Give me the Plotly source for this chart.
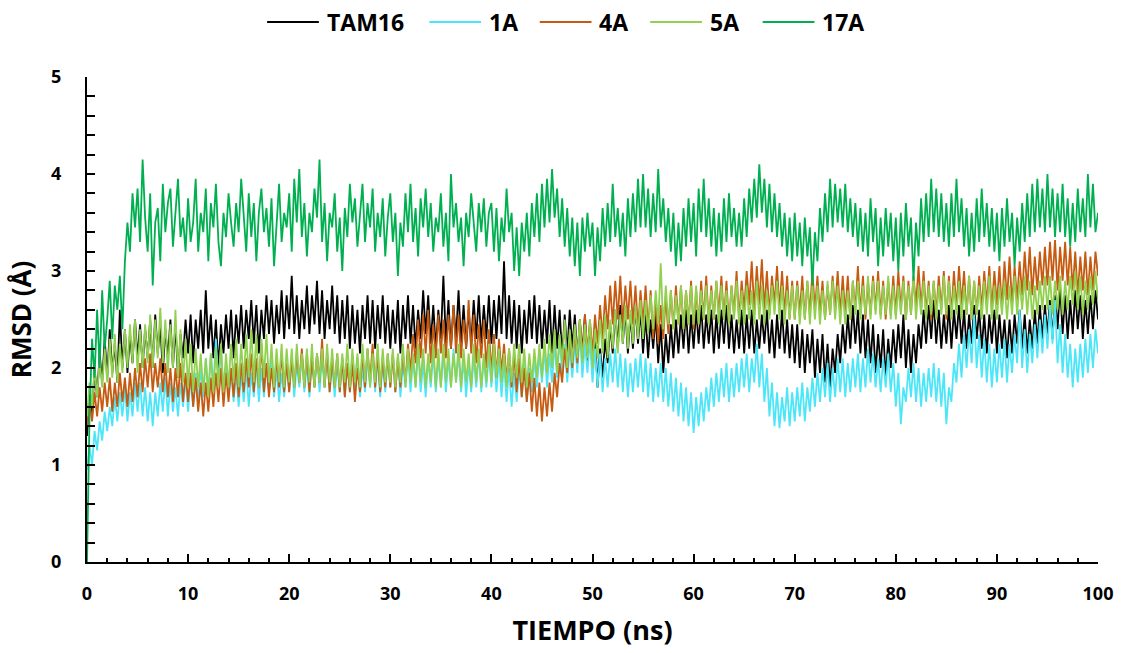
import plotly.graph_objects as go

# Trajectory frames every 0.25 ns, 0-100 ns
TIME_NS = [0.25 * i for i in range(401)]

RMSD_TAM16 = [
    1.3, 1.75, 1.5, 2.0, 1.7, 2.15, 1.85, 2.3, 1.9, 2.4, 1.95, 2.25, 1.85, 2.6, 2.0, 2.4, 1.95, 2.35, 2.05, 2.5,
    2.1, 2.45, 2.0, 2.4, 2.1, 2.5, 2.0, 2.55, 2.15, 2.45, 1.95, 2.4, 2.1, 2.5, 2.0, 2.45, 1.9, 2.35, 2.1, 2.5,
    2.15, 2.55, 2.05, 2.5, 2.2, 2.6, 2.15, 2.8, 2.2, 2.55, 2.1, 2.5, 2.0, 2.45, 2.15, 2.55, 2.2, 2.6, 2.1, 2.55,
    2.25, 2.65, 2.2, 2.6, 2.3, 2.7, 2.25, 2.65, 2.15, 2.6, 2.3, 2.75, 2.35, 2.7, 2.25, 2.65, 2.35, 2.8, 2.3, 2.75,
    2.4, 2.95, 2.35, 2.75, 2.3, 2.7, 2.4, 2.85, 2.35, 2.75, 2.45, 2.9, 2.35, 2.8, 2.3, 2.7, 2.4, 2.85, 2.35, 2.75,
    2.25, 2.7, 2.3, 2.75, 2.2, 2.65, 2.25, 2.6, 2.15, 2.65, 2.3, 2.75, 2.25, 2.7, 2.2, 2.65, 2.3, 2.75, 2.25, 2.65,
    2.2, 2.6, 2.25, 2.7, 2.15, 2.65, 2.3, 2.75, 2.25, 2.65, 2.2, 2.6, 2.3, 2.8, 2.35, 2.75, 2.25, 2.65, 2.2, 2.6,
    2.3, 2.95, 2.25, 2.7, 2.2, 2.65, 2.3, 2.8, 2.25, 2.65, 2.2, 2.6, 2.25, 2.7, 2.3, 2.75, 2.25, 2.65, 2.3, 2.75,
    2.25, 2.7, 2.3, 2.75, 2.35, 3.1, 2.3, 2.75, 2.25, 2.7, 2.2, 2.65, 2.15, 2.6, 2.25, 2.7, 2.3, 2.75, 2.25, 2.65,
    2.2, 2.6, 2.25, 2.7, 2.15, 2.65, 2.2, 2.6, 2.1, 2.55, 2.15, 2.6, 2.2, 2.55, 2.1, 2.5, 2.15, 2.55, 2.05, 2.45,
    1.95, 2.35, 1.8, 2.2, 1.9, 2.3, 2.05, 2.45, 2.15, 2.6, 2.2, 2.65, 2.25, 2.6, 2.15, 2.55, 2.2, 2.65, 2.25, 2.6,
    2.15, 2.55, 2.1, 2.5, 2.2, 2.55, 2.05, 2.45, 1.95, 2.35, 2.05, 2.45, 2.1, 2.5, 2.15, 2.55, 2.2, 2.6, 2.15, 2.55,
    2.2, 2.6, 2.25, 2.65, 2.2, 2.55, 2.25, 2.6, 2.15, 2.55, 2.2, 2.6, 2.25, 2.65, 2.2, 2.55, 2.15, 2.5, 2.2, 2.6,
    2.15, 2.55, 2.2, 2.6, 2.15, 2.5, 2.2, 2.55, 2.25, 2.6, 2.15, 2.5, 2.1, 2.55, 2.2, 2.6, 2.15, 2.5, 2.1, 2.45,
    2.05, 2.45, 2.0, 2.4, 1.95, 2.35, 2.05, 2.4, 1.9, 2.3, 1.95, 2.35, 1.85, 2.25, 1.8, 2.2, 1.95, 2.35, 2.05, 2.45,
    2.15, 2.55, 2.2, 2.65, 2.25, 2.6, 2.15, 2.55, 2.1, 2.5, 2.05, 2.45, 1.95, 2.35, 2.0, 2.4, 1.9, 2.3, 2.0, 2.4,
    2.05, 2.45, 2.1, 2.55, 2.0, 2.4, 1.95, 2.35, 2.05, 2.45, 2.2, 2.6, 2.25, 2.65, 2.3, 2.7, 2.25, 2.6, 2.2, 2.55,
    2.25, 2.65, 2.2, 2.6, 2.3, 2.65, 2.25, 2.6, 2.2, 2.55, 2.25, 2.65, 2.3, 2.6, 2.2, 2.55, 2.15, 2.55, 2.25, 2.6,
    2.15, 2.55, 2.2, 2.5, 2.1, 2.5, 2.15, 2.55, 2.25, 2.6, 2.2, 2.55, 2.15, 2.5, 2.2, 2.6, 2.25, 2.65, 2.3, 2.65,
    2.35, 2.7, 2.3, 2.75, 2.4, 2.85, 2.35, 2.75, 2.3, 2.7, 2.35, 2.8, 2.4, 2.75, 2.3, 2.7, 2.35, 2.75, 2.4, 2.8,
    2.5,
]

RMSD_1A = [
    0.95, 1.2, 1.0, 1.35, 1.15, 1.45, 1.25, 1.55, 1.35, 1.6, 1.4, 1.7, 1.45, 1.75, 1.5, 1.8, 1.45, 1.75, 1.5, 1.85,
    1.55, 1.85, 1.5, 1.8, 1.45, 1.75, 1.4, 1.75, 1.5, 1.85, 1.55, 1.9, 1.5, 1.85, 1.55, 1.8, 1.5, 1.85, 1.6, 1.9,
    1.55, 1.9, 1.6, 1.95, 1.65, 2.0, 1.7, 2.1, 1.75, 2.15, 1.8, 2.3, 1.85, 2.2, 1.75, 2.05, 1.7, 2.0, 1.65, 1.95,
    1.6, 1.95, 1.65, 2.0, 1.6, 1.95, 1.7, 2.05, 1.65, 2.0, 1.7, 2.05, 1.75, 2.1, 1.7, 2.0, 1.65, 1.95, 1.7, 2.05,
    1.75, 2.1, 1.7, 2.05, 1.8, 2.15, 1.75, 2.05, 1.7, 2.1, 1.8, 2.15, 1.75, 2.1, 1.8, 2.15, 1.75, 2.05, 1.7, 2.05,
    1.75, 2.1, 1.7, 2.05, 1.75, 2.15, 1.8, 2.1, 1.7, 2.0, 1.75, 2.1, 1.8, 2.15, 1.75, 2.1, 1.7, 2.05, 1.75, 2.1,
    1.8, 2.15, 1.75, 2.1, 1.7, 2.05, 1.8, 2.15, 1.75, 2.1, 1.8, 2.2, 1.75, 2.05, 1.7, 2.1, 1.8, 2.15, 1.75, 2.1,
    1.8, 2.15, 1.75, 2.1, 1.8, 2.2, 1.85, 2.15, 1.75, 2.1, 1.7, 2.05, 1.75, 2.1, 1.8, 2.15, 1.75, 2.1, 1.8, 2.15,
    1.8, 2.15, 1.75, 2.1, 1.7, 2.05, 1.65, 2.0, 1.6, 1.95, 1.65, 2.0, 1.7, 2.05, 1.65, 2.0, 1.75, 2.1, 1.8, 2.15,
    1.85, 2.2, 1.8, 2.15, 1.85, 2.25, 1.9, 2.3, 1.95, 2.25, 1.85, 2.2, 1.9, 2.25, 1.95, 2.35, 1.9, 2.25, 1.95, 2.3,
    1.85, 2.2, 1.8, 2.15, 1.75, 2.1, 1.8, 2.15, 1.85, 2.2, 1.8, 2.15, 1.75, 2.1, 1.7, 2.05, 1.75, 2.1, 1.8, 2.15,
    1.75, 2.1, 1.7, 2.05, 1.65, 2.0, 1.7, 2.05, 1.65, 2.0, 1.6, 1.95, 1.55, 1.9, 1.5, 1.85, 1.45, 1.8, 1.4, 1.75,
    1.33, 1.7, 1.4, 1.75, 1.45, 1.8, 1.55, 1.9, 1.6, 1.95, 1.65, 2.0, 1.7, 2.05, 1.65, 2.0, 1.7, 2.05, 1.75, 2.1,
    1.8, 2.15, 1.75, 2.1, 1.85, 2.25, 1.8, 2.15, 1.65, 2.0, 1.5, 1.85, 1.4, 1.75, 1.38, 1.7, 1.45, 1.8, 1.4, 1.75,
    1.45, 1.8, 1.5, 1.85, 1.45, 1.8, 1.55, 1.9, 1.6, 1.95, 1.65, 2.0, 1.7, 2.05, 1.65, 2.0, 1.7, 2.1, 1.75, 2.1,
    1.7, 2.05, 1.75, 2.1, 1.8, 2.15, 1.75, 2.1, 1.8, 2.2, 1.85, 2.15, 1.8, 2.1, 1.75, 2.1, 1.8, 2.15, 1.75, 2.05,
    1.6, 1.95, 1.42, 1.8, 1.65, 2.0, 1.7, 2.05, 1.65, 2.0, 1.6, 1.95, 1.65, 2.0, 1.7, 2.05, 1.65, 2.0, 1.6, 1.95,
    1.42, 1.8, 1.65, 2.05, 1.85, 2.25, 1.9, 2.35, 2.0, 2.4, 2.05, 2.55, 2.0, 2.35, 1.9, 2.3, 1.85, 2.25, 1.8, 2.2,
    1.85, 2.25, 1.9, 2.3, 1.85, 2.25, 1.95, 2.35, 2.05, 2.6, 2.0, 2.4, 1.95, 2.35, 2.05, 2.45, 2.1, 2.5, 2.15, 2.55,
    2.2, 2.65, 2.25, 2.7, 2.05, 2.45, 1.95, 2.35, 1.9, 2.25, 1.8, 2.2, 1.85, 2.25, 1.9, 2.3, 1.95, 2.35, 2.0, 2.4,
    2.15,
]

RMSD_4A = [
    1.4, 1.65, 1.45, 1.75, 1.5, 1.8, 1.55, 1.85, 1.6, 1.9, 1.55, 1.85, 1.6, 1.95, 1.65, 1.9, 1.6, 1.95, 1.65, 2.0,
    1.7, 2.05, 1.75, 2.1, 1.8, 2.15, 1.75, 2.05, 1.8, 2.1, 1.75, 2.05, 1.7, 2.0, 1.65, 2.0, 1.7, 2.05, 1.65, 1.95,
    1.65, 1.95, 1.6, 1.9, 1.55, 1.85, 1.5, 1.85, 1.55, 1.9, 1.6, 1.95, 1.65, 2.0, 1.6, 1.95, 1.65, 2.0, 1.7, 2.05,
    1.7, 2.05, 1.75, 2.1, 1.8, 2.15, 1.75, 2.1, 1.8, 2.25, 1.75, 2.05, 1.7, 2.0, 1.75, 2.1, 1.8, 2.15, 1.75, 2.05,
    1.75, 2.1, 1.8, 2.15, 1.85, 2.2, 1.8, 2.15, 1.75, 2.1, 1.8, 2.15, 1.85, 2.3, 1.8, 2.15, 1.75, 2.1, 1.8, 2.15,
    1.75, 2.1, 1.7, 2.05, 1.75, 2.05, 1.65, 2.0, 1.75, 2.15, 1.8, 2.2, 1.85, 2.25, 1.8, 2.15, 1.75, 2.1, 1.8, 2.15,
    1.8, 2.15, 1.75, 2.1, 1.8, 2.15, 1.85, 2.25, 1.95, 2.35, 2.05, 2.5, 2.1, 2.55, 2.15, 2.6, 2.05, 2.45, 2.1, 2.55,
    2.15, 2.5, 2.1, 2.55, 2.2, 2.65, 2.15, 2.55, 2.1, 2.5, 2.2, 2.7, 2.15, 2.55, 2.05, 2.45, 2.1, 2.5, 2.0, 2.4,
    1.95, 2.35, 1.9, 2.3, 1.95, 2.25, 1.85, 2.2, 1.8, 2.15, 1.75, 2.1, 1.7, 2.0, 1.65, 1.95, 1.55, 1.9, 1.5, 1.85,
    1.45, 1.8, 1.5, 1.85, 1.55, 1.95, 1.7, 2.05, 1.85, 2.2, 1.95, 2.35, 2.0, 2.4, 2.05, 2.5, 2.1, 2.55, 2.15, 2.5,
    2.15, 2.55, 2.25, 2.65, 2.3, 2.75, 2.4, 2.85, 2.45, 2.9, 2.5, 2.95, 2.45, 2.85, 2.5, 2.9, 2.45, 2.85, 2.4, 2.8,
    2.45, 2.85, 2.4, 2.8, 2.3, 2.7, 2.25, 2.65, 2.3, 2.75, 2.35, 2.8, 2.4, 2.85, 2.45, 2.85, 2.4, 2.8, 2.45, 2.9,
    2.4, 2.8, 2.45, 2.9, 2.5, 2.95, 2.45, 2.85, 2.5, 2.9, 2.55, 2.95, 2.5, 2.9, 2.45, 2.85, 2.55, 3.0, 2.5, 2.9,
    2.6, 3.0, 2.65, 3.1, 2.6, 3.05, 2.65, 3.12, 2.6, 3.0, 2.55, 2.95, 2.65, 3.05, 2.6, 3.0, 2.55, 2.95, 2.5, 2.9,
    2.5, 2.9, 2.55, 2.95, 2.5, 2.9, 2.55, 3.0, 2.6, 2.95, 2.55, 2.9, 2.5, 2.85, 2.55, 2.95, 2.6, 3.0, 2.55, 2.95,
    2.55, 2.95, 2.5, 2.9, 2.6, 3.05, 2.55, 2.95, 2.5, 2.9, 2.55, 2.95, 2.6, 3.0, 2.55, 2.9, 2.5, 2.9, 2.55, 2.95,
    2.55, 3.0, 2.6, 2.95, 2.5, 2.9, 2.55, 2.95, 2.65, 3.05, 2.6, 3.0, 2.55, 2.9, 2.5, 2.9, 2.55, 2.95, 2.6, 3.0,
    2.5, 2.95, 2.55, 3.0, 2.6, 3.05, 2.65, 3.0, 2.55, 2.95, 2.5, 2.9, 2.55, 2.95, 2.6, 3.0, 2.65, 3.05, 2.6, 3.0,
    2.65, 3.05, 2.6, 3.1, 2.7, 3.15, 2.65, 3.05, 2.7, 3.1, 2.75, 3.2, 2.8, 3.25, 2.75, 3.15, 2.8, 3.2, 2.85, 3.25,
    2.85, 3.3, 2.9, 3.32, 2.8, 3.25, 2.9, 3.3, 2.85, 3.25, 2.8, 3.2, 2.75, 3.15, 2.8, 3.2, 2.75, 3.15, 2.8, 3.2,
    2.95,
]

RMSD_5A = [
    1.5, 1.85, 1.6, 2.0, 1.7, 2.1, 1.8, 2.2, 1.85, 2.3, 1.9, 2.35, 1.85, 2.25, 1.95, 2.4, 2.0, 2.45, 2.05, 2.5,
    1.95, 2.4, 2.0, 2.45, 2.05, 2.55, 2.0, 2.5, 2.1, 2.62, 2.05, 2.5, 1.95, 2.45, 2.0, 2.6, 1.9, 2.4, 1.85, 2.3,
    1.8, 2.25, 1.75, 2.2, 1.8, 2.15, 1.75, 2.1, 1.7, 2.15, 1.75, 2.2, 1.8, 2.25, 1.75, 2.15, 1.8, 2.25, 1.85, 2.3,
    1.8, 2.25, 1.85, 2.35, 1.9, 2.4, 1.85, 2.35, 1.8, 2.3, 1.9, 2.35, 1.85, 2.25, 1.8, 2.2, 1.85, 2.25, 1.8, 2.2,
    1.85, 2.2, 1.8, 2.25, 1.85, 2.15, 1.8, 2.2, 1.85, 2.25, 1.8, 2.15, 1.85, 2.2, 1.8, 2.25, 1.85, 2.2, 1.8, 2.15,
    1.8, 2.15, 1.85, 2.25, 1.8, 2.2, 1.85, 2.15, 1.8, 2.25, 1.85, 2.2, 1.8, 2.15, 1.85, 2.25, 1.8, 2.2, 1.85, 2.15,
    1.85, 2.2, 1.8, 2.15, 1.85, 2.25, 1.8, 2.2, 1.85, 2.15, 1.8, 2.25, 1.85, 2.2, 1.8, 2.15, 1.85, 2.25, 1.8, 2.2,
    1.8, 2.25, 1.85, 2.2, 1.8, 2.15, 1.85, 2.25, 1.8, 2.2, 1.85, 2.15, 1.8, 2.25, 1.85, 2.2, 1.8, 2.15, 1.85, 2.25,
    1.85, 2.25, 1.9, 2.2, 1.85, 2.15, 1.8, 2.2, 1.85, 2.25, 1.9, 2.25, 1.85, 2.2, 1.8, 2.15, 1.85, 2.2, 1.9, 2.25,
    1.9, 2.3, 1.95, 2.35, 2.0, 2.4, 1.95, 2.35, 2.05, 2.5, 2.0, 2.4, 2.05, 2.45, 2.1, 2.5, 2.05, 2.45, 2.1, 2.5,
    2.0, 2.4, 2.1, 2.5, 2.15, 2.55, 2.1, 2.5, 2.2, 2.6, 2.15, 2.55, 2.25, 2.65, 2.2, 2.6, 2.25, 2.65, 2.3, 2.7,
    2.3, 2.7, 2.35, 2.75, 2.4, 2.8, 2.45, 3.08, 2.4, 2.85, 2.45, 2.8, 2.4, 2.75, 2.45, 2.85, 2.4, 2.8, 2.45, 2.85,
    2.45, 2.85, 2.45, 2.8, 2.5, 2.85, 2.45, 2.8, 2.5, 2.9, 2.45, 2.85, 2.5, 2.8, 2.45, 2.85, 2.5, 2.9, 2.45, 2.8,
    2.45, 2.85, 2.5, 2.8, 2.45, 2.9, 2.5, 2.85, 2.45, 2.8, 2.5, 2.85, 2.55, 2.9, 2.5, 2.85, 2.45, 2.8, 2.5, 2.85,
    2.5, 2.85, 2.45, 2.8, 2.5, 2.9, 2.45, 2.85, 2.5, 2.85, 2.45, 2.8, 2.5, 2.9, 2.55, 2.9, 2.5, 2.85, 2.45, 2.8,
    2.45, 2.8, 2.5, 2.9, 2.55, 2.9, 2.5, 2.85, 2.55, 2.95, 2.5, 2.9, 2.55, 2.9, 2.5, 2.85, 2.55, 2.95, 2.5, 2.85,
    2.5, 2.85, 2.55, 2.9, 2.5, 2.85, 2.55, 2.95, 2.5, 2.85, 2.55, 2.9, 2.5, 2.85, 2.55, 2.9, 2.5, 2.85, 2.55, 2.95,
    2.55, 2.9, 2.5, 2.85, 2.55, 2.9, 2.5, 2.85, 2.55, 2.95, 2.5, 2.9, 2.55, 2.85, 2.5, 2.9, 2.55, 2.95, 2.5, 2.85,
    2.5, 2.85, 2.55, 2.9, 2.5, 2.85, 2.55, 2.95, 2.55, 2.9, 2.6, 2.95, 2.55, 2.9, 2.5, 2.85, 2.55, 2.9, 2.6, 2.95,
    2.6, 2.95, 2.55, 2.9, 2.6, 2.95, 2.55, 2.9, 2.6, 2.95, 2.65, 3.0, 2.6, 2.95, 2.55, 2.9, 2.6, 2.95, 2.65, 3.0,
    2.7,
]

RMSD_17A = [
    0.0, 1.5, 2.3, 1.9, 2.6, 2.0, 2.8, 2.2, 2.5, 2.9, 2.3, 2.85, 2.6, 2.95, 2.4, 3.1, 3.5, 3.2, 3.8, 3.45,
    3.85, 3.3, 4.15, 3.55, 3.2, 3.8, 2.85, 3.5, 3.65, 3.1, 3.9, 3.4, 3.7, 3.85, 3.25, 3.6, 3.95, 3.35, 3.55, 3.2,
    3.75, 3.3, 3.5, 3.95, 3.2, 3.6, 3.4, 3.85, 3.1, 3.7, 3.45, 3.9, 3.3, 3.05, 3.6, 3.35, 3.8, 3.5, 3.25, 3.7,
    3.4, 3.95, 3.55, 3.2, 3.8, 3.35, 3.7, 3.1, 3.6, 3.85, 3.4, 3.65, 3.25, 3.75, 3.05, 3.5, 3.9, 3.3, 3.6, 3.45,
    3.8, 3.2, 3.95, 3.5, 4.05, 3.35, 3.7, 3.15, 3.6, 3.4, 3.85, 3.55, 4.15, 3.3, 3.7, 3.1, 3.6, 3.45, 3.8, 3.2,
    3.55, 3.0, 3.65, 3.35, 3.9, 3.5, 3.75, 3.25, 3.6, 3.9, 3.3, 3.7, 3.45, 3.85, 3.2, 3.6, 3.35, 3.75, 3.15, 3.55,
    3.8, 3.3, 3.6, 2.95, 3.5, 3.25, 3.8, 3.4, 3.9, 3.3, 3.65, 3.15, 3.75, 3.45, 3.85, 3.35, 3.7, 3.2, 3.55, 3.4,
    3.8, 3.25, 3.6, 3.1, 4.0, 3.45, 3.7, 3.3, 3.55, 3.05, 3.6, 3.35, 3.8, 3.5, 3.2, 3.7, 3.4, 3.75, 3.25, 3.6,
    3.7, 3.2, 3.65, 3.1, 3.55, 3.3, 3.85, 3.4, 3.6, 3.0, 3.45, 2.95, 3.5, 3.2, 3.6, 3.15, 3.7, 3.35, 3.8, 3.3,
    3.9, 3.45, 3.95, 3.5, 4.05, 3.55, 3.85, 3.35, 3.75, 3.25, 3.65, 3.15, 3.55, 3.05, 3.5, 2.95, 3.55, 3.2, 3.6, 3.25,
    3.5, 2.95, 3.45, 3.1, 3.65, 3.25, 3.7, 3.3, 3.9, 3.35, 3.65, 3.25, 3.6, 3.15, 3.75, 3.35, 3.8, 3.4, 3.95, 3.45,
    4.0, 3.45, 3.85, 3.35, 3.8, 3.4, 4.05, 3.45, 3.75, 3.3, 3.65, 3.2, 3.6, 3.05, 3.5, 3.1, 3.65, 3.25, 3.75, 3.3,
    3.7, 3.15, 3.85, 3.4, 3.95, 3.35, 3.75, 3.25, 3.65, 3.15, 3.6, 3.2, 3.75, 3.3, 3.8, 3.35, 3.65, 3.25, 3.6, 3.25,
    3.75, 3.35, 3.85, 3.5, 3.95, 3.55, 4.1, 3.6, 3.95, 3.45, 3.9, 3.4, 3.8, 3.35, 3.7, 3.25, 3.6, 3.15, 3.55, 3.1,
    3.6, 3.15, 3.5, 3.05, 3.55, 3.15, 3.45, 2.85, 3.4, 3.1, 3.65, 3.3, 3.8, 3.4, 3.95, 3.45, 3.9, 3.5, 3.85, 3.45,
    3.9, 3.4, 3.75, 3.35, 3.7, 3.25, 3.65, 3.2, 3.6, 3.15, 3.75, 3.3, 3.65, 3.05, 3.55, 3.15, 3.65, 3.25, 3.6, 3.1,
    3.55, 3.0, 3.6, 3.15, 3.7, 3.25, 3.55, 2.9, 3.5, 3.15, 3.75, 3.3, 3.8, 3.35, 3.95, 3.4, 3.85, 3.35, 3.8, 3.3,
    3.7, 3.25, 3.8, 3.35, 3.95, 3.4, 3.75, 3.25, 3.65, 3.15, 3.6, 3.2, 3.75, 3.3, 3.85, 3.35, 3.7, 3.25, 3.65, 3.2,
    3.6, 3.1, 3.65, 3.25, 3.75, 3.3, 3.6, 3.05, 3.55, 3.2, 3.7, 3.3, 3.8, 3.35, 3.9, 3.4, 3.95, 3.45, 3.85, 3.4,
    4.0, 3.45, 3.85, 3.35, 3.8, 3.4, 3.9, 3.35, 3.75, 3.25, 3.7, 3.3, 3.85, 3.4, 3.75, 3.35, 4.0, 3.45, 3.9, 3.4,
    3.6,
]

SERIES_NAMES = ["TAM16", "1A", "4A", "5A", "17A"]
SERIES_VALUES = [RMSD_TAM16, RMSD_1A, RMSD_4A, RMSD_5A, RMSD_17A]
SERIES_COLORS = ["#000000", "#4DE6F8", "#C55A11", "#92D050", "#00B050"]

X_TICKS = [0, 10, 20, 30, 40, 50, 60, 70, 80, 90, 100]
Y_TICKS = [0, 1, 2, 3, 4, 5]

FONT = "Open Sans"
WIDTH, HEIGHT = 1125, 653
MARGIN = dict(l=87, r=22, t=77, b=90)

for name, values in zip(SERIES_NAMES, SERIES_VALUES):
    if len(values) != len(TIME_NS):
        raise ValueError(f"{name}: {len(values)} samples, expected {len(TIME_NS)}")

fig = go.Figure()
for name, values, color in zip(SERIES_NAMES, SERIES_VALUES, SERIES_COLORS):
    fig.add_trace(go.Scatter(
        x=TIME_NS, y=values, mode="lines", name=name,
        line=dict(color=color, width=1.8), showlegend=False,
    ))

# Legend row above the plot: a line sample followed by a bold label
plot_w = WIDTH - MARGIN["l"] - MARGIN["r"]
plot_h = HEIGHT - MARGIN["t"] - MARGIN["b"]


def px_x(px):
    return (px - MARGIN["l"]) / plot_w


def px_y(py):
    return (HEIGHT - MARGIN["b"] - py) / plot_h


legend_starts = [268, 431, 542, 653, 766]
sample_len, text_gap, legend_row = 52, 6, 22
for start, name, color in zip(legend_starts, SERIES_NAMES, SERIES_COLORS):
    fig.add_shape(type="line", xref="paper", yref="paper",
                  x0=px_x(start), x1=px_x(start + sample_len),
                  y0=px_y(legend_row), y1=px_y(legend_row),
                  line=dict(color=color, width=2))
    fig.add_annotation(xref="paper", yref="paper",
                       x=px_x(start + sample_len + text_gap), y=px_y(legend_row),
                       xanchor="left", yanchor="middle", showarrow=False,
                       text=f"<b>{name}</b>",
                       font=dict(family=FONT, size=23, color="black"))

fig.update_layout(
    width=WIDTH, height=HEIGHT,
    margin=MARGIN,
    paper_bgcolor="white", plot_bgcolor="white",
    font=dict(family=FONT, color="black"),
    showlegend=False,
    xaxis=dict(
        range=[0, 100], tickvals=X_TICKS,
        showline=True, linecolor="black", linewidth=2,
        ticks="inside", ticklen=8, tickwidth=2, tickcolor="black",
        minor=dict(dtick=2, ticks="inside", ticklen=4, tickwidth=2, tickcolor="black"),
        showgrid=False, zeroline=False,
        ticklabelstandoff=14,
        tickfont=dict(family=FONT, size=18, color="black", weight="bold"),
        title=dict(text="TIEMPO (ns)", standoff=18,
                   font=dict(family=FONT, size=27, color="black", weight="bold")),
    ),
    yaxis=dict(
        range=[0, 5], tickvals=Y_TICKS,
        showline=True, linecolor="black", linewidth=2,
        ticks="inside", ticklen=8, tickwidth=2, tickcolor="black",
        minor=dict(dtick=0.2, ticks="inside", ticklen=8, tickwidth=2, tickcolor="black"),
        showgrid=False, zeroline=False,
        ticklabelstandoff=20,
        tickfont=dict(family=FONT, size=18, color="black", weight="bold"),
        title=dict(text="RMSD (Å)", standoff=12,
                   font=dict(family=FONT, size=26, color="black", weight="bold")),
    ),
)

fig.write_html("out.html")
